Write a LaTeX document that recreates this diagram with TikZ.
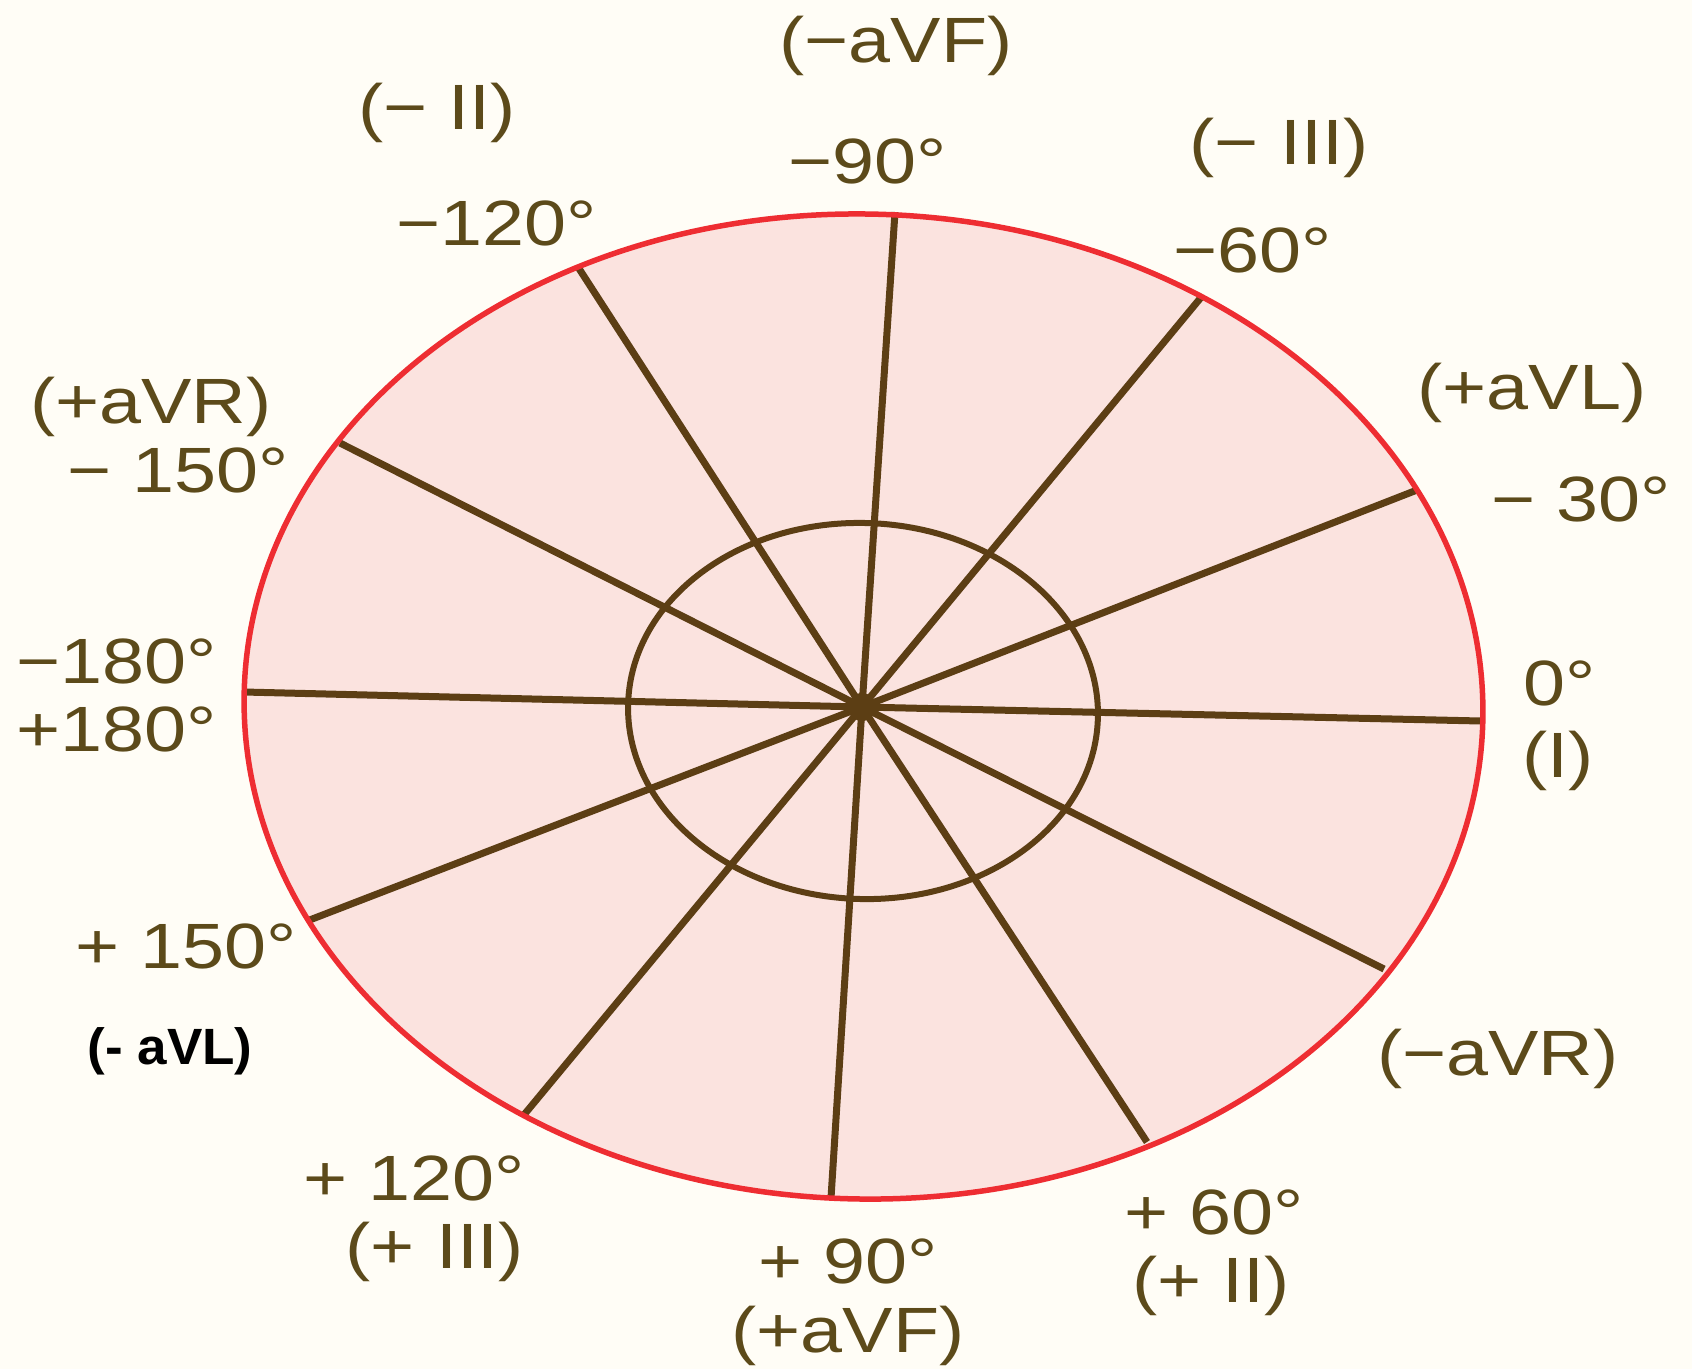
\documentclass[tikz,border=0pt]{standalone}
\usepackage{fontspec}
\setmainfont{Liberation Sans}
\newfontfamily\lblfont[FakeStretch=1.18]{Liberation Sans}
\newfontfamily\blkfont[FakeStretch=1.04]{Liberation Sans Bold}
\definecolor{bgc}{RGB}{255,253,246}
\definecolor{pinkc}{RGB}{251,227,223}
\definecolor{redc}{RGB}{238,45,50}
\definecolor{brownc}{RGB}{92,62,20}
\definecolor{textc}{RGB}{92,74,26}
\begin{document}
\begin{tikzpicture}[x=1pt,y=-1pt,
  lbl/.style={text=textc, font=\lblfont\fontsize{64}{70}\selectfont, inner sep=0pt, anchor=base},
  blk/.style={text=black, font=\blkfont\fontsize{51}{56}\selectfont, inner sep=0pt, anchor=base},
  spoke/.style={draw=brownc, line width=7pt},
  inner/.style={draw=brownc, line width=6pt},
  outer/.style={draw=redc, line width=5.5pt}]
\useasboundingbox[fill=bgc] (0,0) rectangle (1692,1369);
% outer disc fill
\begin{scope}[shift={(863.5,706.5)}, rotate=-1.3]
  \fill[pinkc] (0,0) ellipse[x radius=619.5, y radius=492.5];
\end{scope}
% coordinates
\coordinate (c) at (862,707);
\coordinate (e0) at (1481,721);
\coordinate (e30m) at (1417,490);
\coordinate (e60m) at (1203,295);
\coordinate (e90m) at (895,212);
\coordinate (e120m) at (578,267);
\coordinate (e150m) at (340,443);
\coordinate (e180) at (244,692);
\coordinate (e150p) at (307,921);
\coordinate (e120p) at (523,1116);
\coordinate (e90p) at (831,1198);
\coordinate (e60p) at (1147,1142);
\coordinate (e30p) at (1384,969);
\foreach \e in {e0,e30m,e60m,e90m,e120m,e150m,e180,e150p,e120p,e90p,e60p,e30p}
  \draw[spoke] (c) -- (\e);
% inner ellipse
\begin{scope}[shift={(863,711)}, rotate=-2]
  \draw[inner] (0,0) ellipse[x radius=235, y radius=188];
\end{scope}
% outer outline
\begin{scope}[shift={(863.5,706.5)}, rotate=-1.3]
  \draw[outer] (0,0) ellipse[x radius=619.5, y radius=492.5];
\end{scope}
\fill[brownc] (c) circle[radius=14];
% labels
\node[lbl] (laVFm) at (896,62) {(−aVF)};
\node[lbl] (l90m) at (868,183) {−90°};
\node[lbl] (lIIm) at (437,129) {(− II)};
\node[lbl] (l120m) at (497,245) {−120°};
\node[lbl] (lIIIm) at (1279,164) {(− III)};
\node[lbl] (l60m) at (1253,272) {−60°};
\node[lbl] (laVLp) at (1532,409) {(+aVL)};
\node[lbl] (l30m) at (1581,521) {− 30°};
\node[lbl] (laVRp) at (151,423) {(+aVR)};
\node[lbl] (l150m) at (178,492) {− 150°};
\node[lbl] (l180m) at (117,683) {−180°};
\node[lbl] (l180p) at (117,751) {+180°};
\node[lbl] (l0) at (1560,705) {0°};
\node[lbl] (lI) at (1558,777) {(I)};
\node[lbl] (l150p) at (186,968) {+ 150°};
\node[blk] (laVLm) at (170,1064) {(- aVL)};
\node[lbl] (laVRm) at (1498,1075) {(−aVR)};
\node[lbl] (l120p) at (414,1200) {+ 120°};
\node[lbl] (lIIIp) at (435,1268) {(+ III)};
\node[lbl] (l90p) at (848,1283) {+ 90°};
\node[lbl] (laVFp) at (848,1352) {(+aVF)};
\node[lbl] (l60p) at (1214,1234) {+ 60°};
\node[lbl] (lIIp) at (1211,1302) {(+ II)};
\end{tikzpicture}
\end{document}
